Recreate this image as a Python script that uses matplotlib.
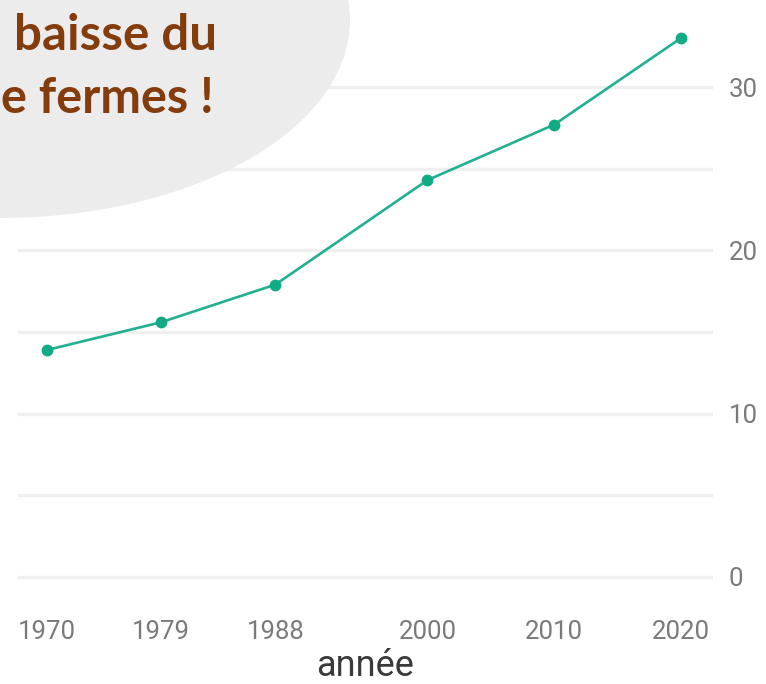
import matplotlib
matplotlib.use("Agg")
import matplotlib.pyplot as plt
from matplotlib.patches import Ellipse

# Data
annees = [1970, 1979, 1988, 2000, 2010, 2020]
valeurs = [13.9, 15.6, 17.9, 24.3, 27.7, 33.0]
xtick_labels = ["1970", "1979", "1988", "2000", "2010", "2020"]
yticks = [0, 10, 20, 30]
yticks_mineurs = [5, 15, 25]
annotation_lignes = ["baisse du", "e fermes !"]

W, H = 766, 684
fig = plt.figure(figsize=(W / 100, H / 100), dpi=100)
fig.patch.set_facecolor("white")

tick_font = ["Roboto", "DejaVu Sans"]

ax_l, ax_r, ax_t, ax_b = 18, 713, 0, 600
ax = fig.add_axes([ax_l / W, (H - ax_b) / H, (ax_r - ax_l) / W, (ax_b - ax_t) / H])

ax.plot(annees, valeurs, color="#22b08f", lw=1.9, marker="o", ms=7.5,
        markerfacecolor="#12ab86", markeredgecolor="#12ab86", zorder=3)

ax.set_xlim(1967.71, 2022.52)
ax.set_ylim(-1.41, 35.33)

ax.set_xticks(annees)
ax.set_xticklabels(xtick_labels, fontsize=18.5, color="#7a7a7a", family=tick_font)
ax.yaxis.tick_right()
ax.set_yticks(yticks)
ax.set_yticklabels([str(v) for v in yticks], fontsize=18.5, color="#7a7a7a", family=tick_font)
ax.set_yticks(yticks_mineurs, minor=True)
ax.tick_params(axis="both", which="both", length=0)
ax.tick_params(axis="x", pad=14.5)
ax.tick_params(axis="y", pad=11.5)
for t in ax.get_yticklabels():
    t.set_verticalalignment("center_baseline")
ax.grid(axis="y", which="both", color="#efefef", lw=2.4, zorder=0)
ax.set_axisbelow(True)
for s in ax.spines.values():
    s.set_visible(False)
ax.set_xlabel("année", fontsize=26, color="#3a3a3a", family=tick_font, va="baseline")
ax.xaxis.set_label_coords(0.4995, (ax_b - 676) / (ax_b - ax_t))

# Annotation bubble
ell = Ellipse((0 / W, (H - 20) / H), width=700 / W, height=396 / H,
              transform=fig.transFigure, facecolor="#ececec", edgecolor="none", zorder=5)
fig.patches.append(ell)

txt_font = ["Lato", "DejaVu Sans"]
t1 = fig.text(217 / W, (H - 50) / H, annotation_lignes[0], ha="right", va="baseline",
              fontsize=38, fontweight="bold", color="#843c0c", family=txt_font, zorder=6)
t2 = fig.text(214 / W, (H - 113) / H, annotation_lignes[1], ha="right", va="baseline",
              fontsize=38, fontweight="bold", color="#843c0c", family=txt_font, zorder=6)

# fit the bubble text widths to the reference
r = fig.canvas.get_renderer()
w1 = t1.get_window_extent(r).width
fs = 38 * 203 / w1
t1.set_fontsize(fs)
t2.set_fontsize(fs)
w2 = t2.get_window_extent(r).width
if w2 > 213:
    t2.set_fontsize(fs * 213 / w2)

fig.savefig("out.png", dpi=100)
